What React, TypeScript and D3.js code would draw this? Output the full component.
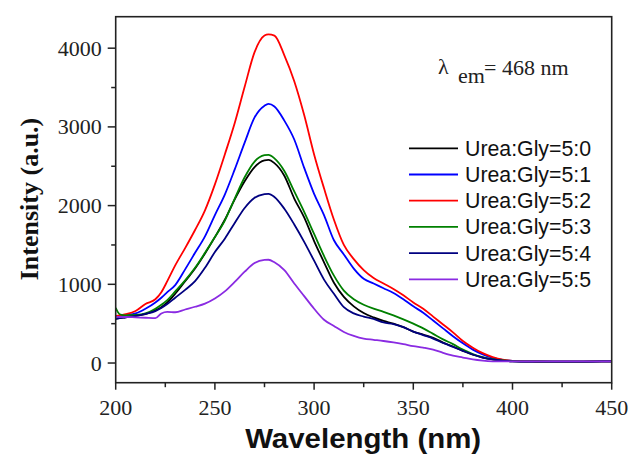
import React from "react";
import * as d3 from "d3";

const wavelengths = [200, 202, 205, 210, 215, 220, 223, 226, 230, 235, 240, 245, 250, 255, 260, 265, 270, 275, 277, 280, 285, 290, 295, 300, 305, 310, 315, 320, 325, 330, 335, 340, 345, 350, 355, 360, 365, 370, 375, 380, 385, 390, 395, 400, 410, 420, 430, 440, 450];

const s50 = [560, 570, 580, 600, 620, 670, 710, 770, 880, 1040, 1200, 1390, 1600, 1820, 2080, 2310, 2490, 2575, 2581, 2540, 2380, 2090, 1850, 1550, 1280, 1020, 840, 720, 635, 580, 535, 500, 455, 400, 360, 320, 260, 210, 155, 105, 70, 45, 30, 22, 18, 17, 17, 19, 21];
const s51 = [600, 600, 610, 630, 690, 770, 830, 900, 990, 1190, 1400, 1610, 1880, 2140, 2460, 2800, 3120, 3270, 3293, 3260, 3080, 2840, 2480, 2150, 1880, 1560, 1380, 1200, 1070, 1010, 950, 890, 810, 720, 640, 540, 440, 340, 250, 170, 110, 65, 40, 28, 20, 18, 18, 20, 22];
const s52 = [600, 605, 620, 660, 750, 810, 900, 1040, 1240, 1460, 1690, 1940, 2270, 2650, 3050, 3510, 3950, 4160, 4175, 4160, 3910, 3580, 3150, 2650, 2220, 1820, 1500, 1320, 1180, 1080, 1010, 940, 860, 770, 690, 590, 490, 390, 280, 195, 125, 75, 42, 28, 20, 18, 18, 20, 22];
const s53 = [700, 620, 605, 610, 630, 690, 740, 800, 910, 1050, 1210, 1400, 1600, 1810, 2090, 2360, 2560, 2640, 2645, 2600, 2440, 2180, 1920, 1640, 1360, 1110, 920, 810, 740, 690, 650, 605, 555, 500, 440, 370, 300, 240, 170, 115, 75, 48, 32, 25, 20, 18, 18, 20, 22];
const s54 = [560, 570, 580, 600, 625, 660, 700, 750, 830, 930, 1040, 1210, 1410, 1580, 1780, 1970, 2100, 2145, 2150, 2110, 1960, 1760, 1540, 1300, 1060, 880, 710, 630, 590, 560, 515, 495, 455, 400, 355, 310, 255, 205, 155, 108, 70, 45, 30, 22, 18, 17, 17, 19, 21];
const s55 = [590, 585, 585, 580, 575, 570, 630, 650, 645, 680, 715, 755, 820, 910, 1030, 1160, 1270, 1310, 1312, 1280, 1180, 1010, 850, 690, 550, 470, 395, 345, 310, 295, 280, 262, 240, 215, 195, 170, 130, 95, 70, 45, 30, 22, 20, 20, 20, 20, 20, 21, 22];

const seriesNames = ["Urea:Gly=5:0", "Urea:Gly=5:1", "Urea:Gly=5:2", "Urea:Gly=5:3", "Urea:Gly=5:4", "Urea:Gly=5:5"];
const seriesValues = [s50, s51, s52, s53, s54, s55];
const seriesColors = ["#000000", "#0000ff", "#ff0000", "#008000", "#000080", "#8a2be2"];

const xTicks = [200, 250, 300, 350, 400, 450];
const xMinorTicks = [225, 275, 325, 375, 425];
const yTicks = [0, 1000, 2000, 3000, 4000];
const yMinorTicks = [500, 1500, 2500, 3500];

const W = 635;
const H = 459;
const left = 115.7;
const right = 611.7;
const top = 16.7;
const bottom = 382.7;

export default function App() {
  const x = d3.scaleLinear().domain([200, 450]).range([left, right]);
  const y = d3.scaleLinear().domain([-250, 4400]).range([bottom, top]);
  const line = d3
    .line<[number, number]>()
    .x((d) => x(d[0]))
    .y((d) => y(d[1]))
    .curve(d3.curveMonotoneX);

  const serif = "'Liberation Serif', 'Times New Roman', serif";
  const sans = "'Liberation Sans', Arial, sans-serif";
  const axisColor = "#222";

  return (
    <svg
      width={W}
      height={H}
      viewBox={`0 0 ${W} ${H}`}
      style={{ position: "fixed", left: 0, top: 0, background: "#fff" }}
    >
      <rect x={0} y={0} width={W} height={H} fill="#fff" />
      <defs>
        <clipPath id="plotclip">
          <rect x={left} y={top} width={right - left} height={bottom - top} />
        </clipPath>
      </defs>
      <g clipPath="url(#plotclip)">
        {seriesValues.map((vals, i) => (
          <path
            key={i}
            d={line(wavelengths.map((w, j) => [w, vals[j]] as [number, number])) || ""}
            fill="none"
            stroke={seriesColors[i]}
            strokeWidth={1.8}
            strokeLinejoin="round"
          />
        ))}
      </g>
      {/* frame */}
      <rect
        x={left}
        y={top}
        width={right - left}
        height={bottom - top}
        fill="none"
        stroke={axisColor}
        strokeWidth={1.6}
      />
      {/* x ticks */}
      {xTicks.map((t) => (
        <g key={"xt" + t}>
          <line x1={x(t)} x2={x(t)} y1={bottom} y2={bottom + 7} stroke={axisColor} strokeWidth={1.5} />
          <text x={x(t)} y={bottom + 32} textAnchor="middle" fontFamily={serif} fontSize={22} fill="#222">
            {t}
          </text>
        </g>
      ))}
      {xMinorTicks.map((t) => (
        <line key={"xm" + t} x1={x(t)} x2={x(t)} y1={bottom} y2={bottom + 4.5} stroke={axisColor} strokeWidth={1.5} />
      ))}
      {/* y ticks */}
      {yTicks.map((t) => (
        <g key={"yt" + t}>
          <line x1={left - 8} x2={left} y1={y(t)} y2={y(t)} stroke={axisColor} strokeWidth={1.5} />
          <text x={left - 14} y={y(t) + 7.5} textAnchor="end" fontFamily={serif} fontSize={22} fill="#222">
            {t}
          </text>
        </g>
      ))}
      {yMinorTicks.map((t) => (
        <line key={"ym" + t} x1={left - 4.5} x2={left} y1={y(t)} y2={y(t)} stroke={axisColor} strokeWidth={1.5} />
      ))}
      {/* axis titles */}
      <text
        x={(left + right) / 2 - 0.5}
        y={448}
        textAnchor="middle"
        fontFamily={sans}
        fontWeight="bold"
        fontSize={27}
        textLength={236}
        lengthAdjust="spacingAndGlyphs"
        fill="#111"
      >
        Wavelength (nm)
      </text>
      <text
        transform={`translate(38, 199) rotate(-90)`}
        textAnchor="middle"
        fontFamily={serif}
        fontWeight="bold"
        fontSize={26}
        fill="#111"
      >
        Intensity (a.u.)
      </text>
      {/* annotation */}
      <text fontFamily={serif} fontSize={22} fill="#222">
        <tspan x={438} y={74}>λ</tspan>
        <tspan x={458} y={83}>em</tspan>
        <tspan x={484} y={75}>= 468 nm</tspan>
      </text>
      {/* legend */}
      {seriesNames.map((name, i) => {
        const ly = 148.3 + i * 26.2;
        return (
          <g key={"lg" + i}>
            <line x1={409} x2={458} y1={ly} y2={ly} stroke={seriesColors[i]} strokeWidth={1.8} />
            <text x={465} y={ly + 7.5} fontFamily={sans} fontSize={21.3} fill="#111">
              {name}
            </text>
          </g>
        );
      })}
    </svg>
  );
}
